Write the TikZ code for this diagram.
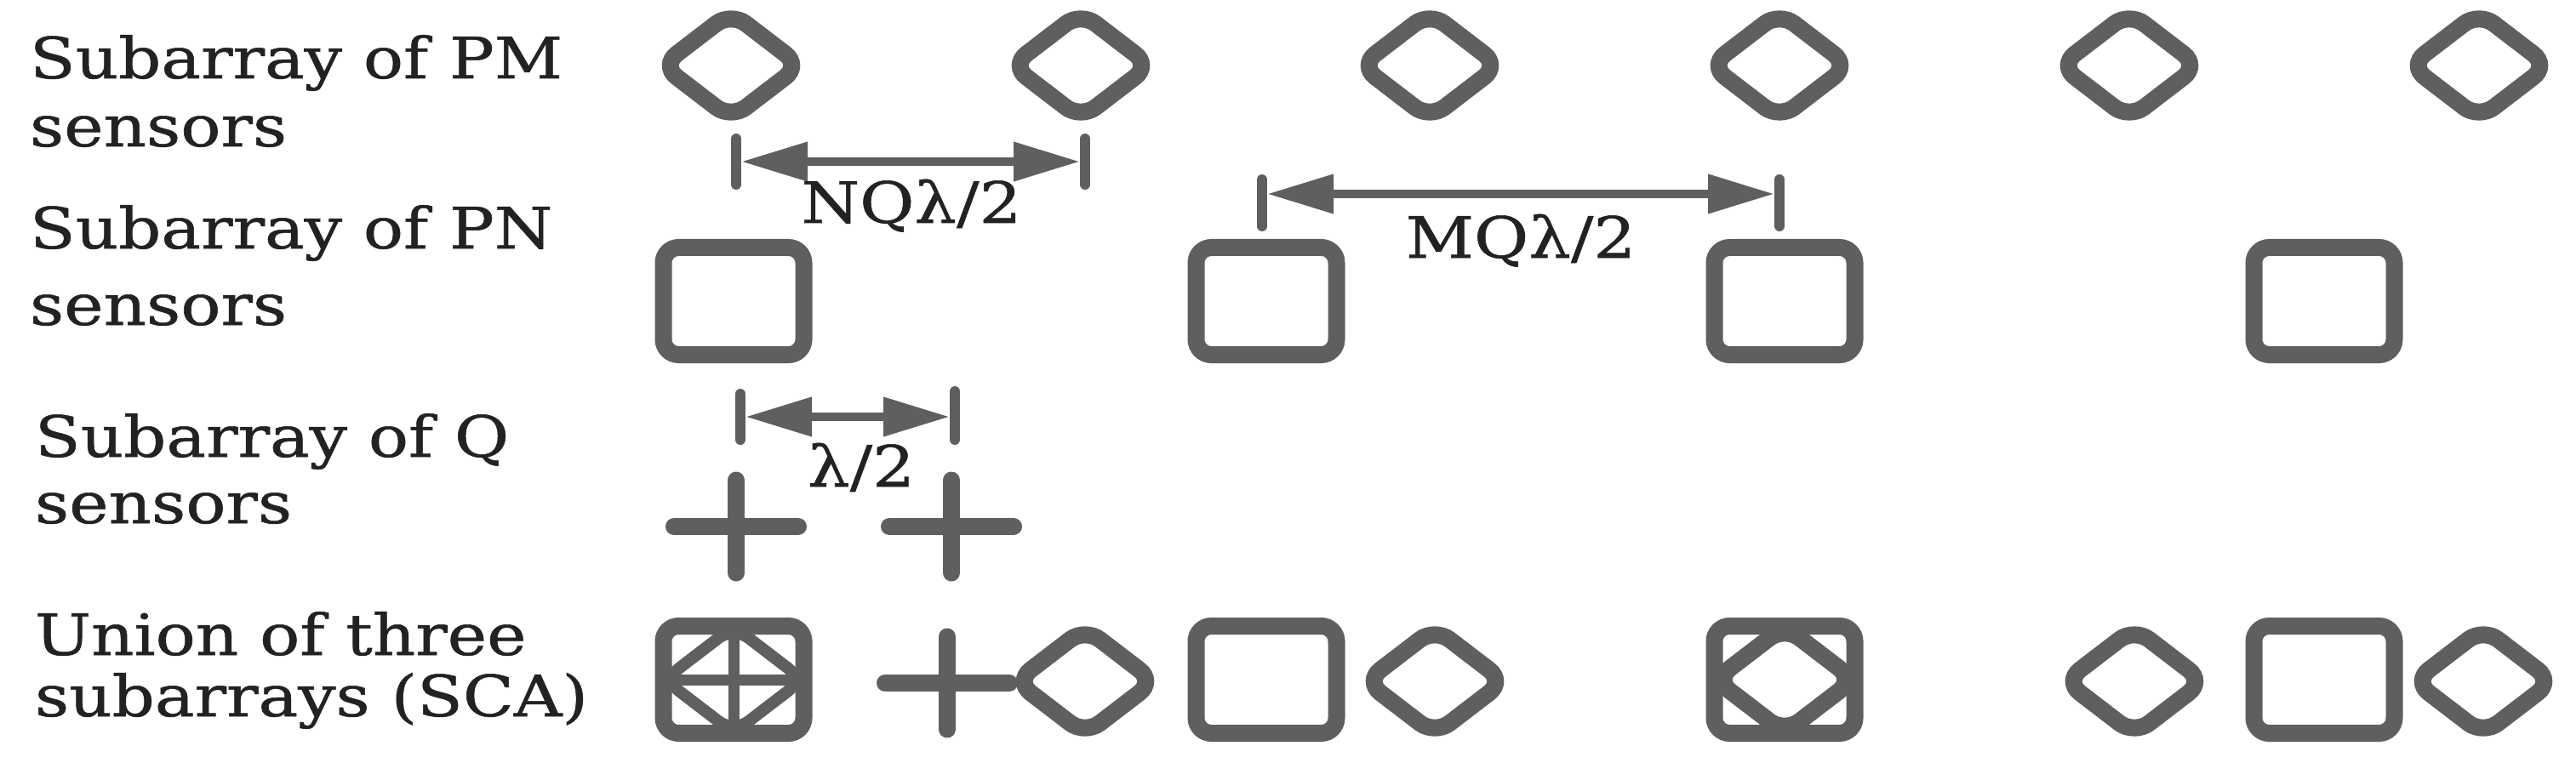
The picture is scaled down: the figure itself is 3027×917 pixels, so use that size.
\documentclass[tikz,border=0pt]{standalone}
\usepackage{fontspec}
\setmainfont{DejaVu Serif}[FakeStretch=1.17,FakeBold=0.8]
\usetikzlibrary{arrows.meta,shapes.geometric}
\definecolor{sgray}{HTML}{5F5F5F}
\definecolor{tblack}{HTML}{222222}
\begin{document}
\begin{tikzpicture}[x=1pt,y=-1pt,
  pmsensor/.style={draw=sgray, line width=20pt, diamond, minimum width=163pt, minimum height=125pt, inner sep=0pt, outer sep=0pt, rounded corners=22pt},
  pnsensor/.style={draw=sgray, line width=20pt, rectangle, minimum width=165pt, minimum height=126pt, inner sep=0pt, outer sep=0pt, rounded corners=18pt},
  qbar/.style={draw=sgray, line width=20pt, line cap=round},
  thinbar/.style={draw=sgray, line width=13pt},
  lab/.style={anchor=base west, inner sep=0pt, outer sep=0pt, text=tblack, font=\fontsize{67}{80}\selectfont},
  dimlab/.style={anchor=base, inner sep=0pt, outer sep=0pt, text=tblack, font=\fontsize{67}{80}\selectfont},
  dimtick/.style={draw=sgray, line width=12pt, line cap=round},
  dimline/.style={draw=sgray, line width=10.5pt, shorten <=6pt, shorten >=6pt,
    {Triangle[length=78pt,width=44pt]}-{Triangle[length=78pt,width=44pt]}}
]
\useasboundingbox (0,0) rectangle (3027,917);

% left labels
\node[lab] (l1a) at (35,92) {Subarray of PM};
\node[lab] (l1b) at (35,172) {sensors};
\node[lab] (l2a) at (35,292) {Subarray of PN};
\node[lab] (l2b) at (35,382) {sensors};
\node[lab] (l3a) at (41,537) {Subarray of Q};
\node[lab] (l3b) at (41,615) {sensors};
\node[lab] (l4a) at (41,770) {Union of three};
\node[lab] (l4b) at (41,842) {subarrays (SCA)};

% row 1: PM sensors
\node[pmsensor] (m1) at (859,77) {};
\node[pmsensor] (m2) at (1270,77) {};
\node[pmsensor] (m3) at (1680,77) {};
\node[pmsensor] (m4) at (2091,77) {};
\node[pmsensor] (m5) at (2502,77) {};
\node[pmsensor] (m6) at (2913,77) {};

% row 2: PN sensors
\node[pnsensor] (n1) at (862,354) {};
\node[pnsensor] (n2) at (1488,354) {};
\node[pnsensor] (n3) at (2097,354) {};
\node[pnsensor] (n4) at (2731,354) {};

% row 3: Q sensors
\coordinate (q1) at (865,619);
\coordinate (q2) at (1118,619);
\draw[qbar] (q1) ++(-73,0) -- ++(146,0) (q1) ++(0,-54.5) -- ++(0,109);
\draw[qbar] (q2) ++(-73,0) -- ++(146,0) (q2) ++(0,-54.5) -- ++(0,109);

% row 4: union
\node[pmsensor, line width=14pt] (u1d) at (862,799) {};
\node[pnsensor] (u1) at (862,799) {};
\draw[thinbar] (u1.north) -- (u1.south) (u1.west) -- (u1.east);
\coordinate (u2) at (1113,803);
\draw[qbar] (u2) ++(-73,0) -- ++(146,0) (u2) ++(0,-54.5) -- ++(0,109);
\node[pmsensor] (u3) at (1275,801) {};
\node[pnsensor] (u4) at (1488,799) {};
\node[pmsensor] (u5) at (1686,801) {};
\node[pmsensor] (u6d) at (2097,799) {};
\node[pnsensor] (u6) at (2097,799) {};
\node[pmsensor] (u7) at (2508,801) {};
\node[pnsensor] (u8) at (2731,799) {};
\node[pmsensor] (u9) at (2918,801) {};

% dimension NQ
\coordinate (nqL) at (865,190);
\coordinate (nqR) at (1275,190);
\draw[dimtick] (nqL) ++(0,-27) -- ++(0,54);
\draw[dimtick] (nqR) ++(0,-27) -- ++(0,54);
\draw[dimline] (nqL) -- (nqR);
\node[dimlab] (nqlab) at (1071,262) {NQλ/2};

% dimension MQ
\coordinate (mqL) at (1483,228);
\coordinate (mqR) at (2091,228);
\draw[dimtick] (1483,211) -- (1483,266);
\draw[dimtick] (2091,211) -- (2091,266);
\draw[dimline] (mqL) -- (mqR);
\node[dimlab] (mqlab) at (1787,303) {MQλ/2};

% dimension lambda/2
\coordinate (lqL) at (870,490);
\coordinate (lqR) at (1122,490);
\draw[dimtick] (lqL) ++(0,-27) -- ++(0,54);
\draw[dimtick] (lqR) ++(0,-30) -- ++(0,57);
\draw[dimline] (lqL) -- (lqR);
\node[dimlab] (lqlab) at (1012,572) {λ/2};
\end{tikzpicture}
\end{document}
